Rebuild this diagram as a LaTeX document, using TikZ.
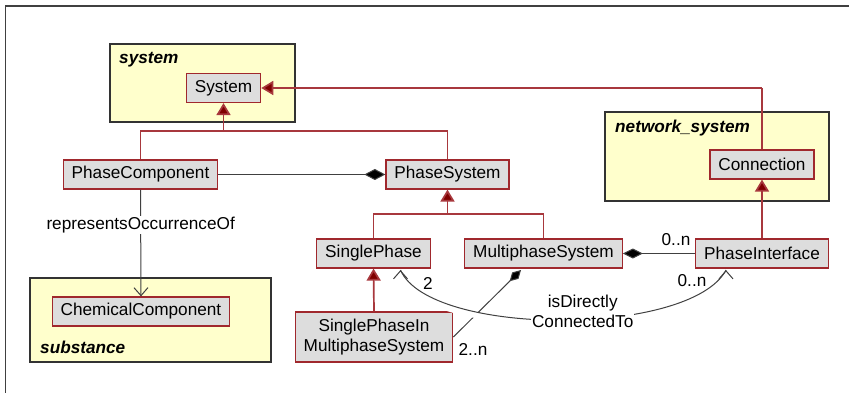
\documentclass[tikz,border=0pt]{standalone}
\usepackage{fontspec}
\setmainfont{Liberation Sans}
\usetikzlibrary{arrows.meta}

\definecolor{pkgfill}{HTML}{FFFFCC}
\definecolor{clsfill}{HTML}{DDDDDD}
\definecolor{clsdraw}{HTML}{A0282D}
\definecolor{genline}{HTML}{A8383D}
\definecolor{gentip}{HTML}{800000}

\tikzset{
  cls/.style={rectangle, fill=clsfill, draw=clsdraw, line width=1.2pt, inner xsep=8.5pt, inner ysep=2pt, minimum height=29pt, font=\fontsize{17.2}{20}\selectfont},
  pkg/.style={rectangle, fill=pkgfill, draw=black!80, line width=1.2pt, inner sep=0pt},
  pkgname/.style={anchor=west, inner sep=0pt, font=\fontsize{17.2}{20}\selectfont\bfseries\itshape},
  gen/.style={draw=genline, line width=1.7pt},
  genarrow/.style={gen, -{Triangle[length=12pt,width=14pt,fill=gentip]}},
  assoc/.style={draw=black!75, line width=1pt},
  barb/.style={assoc, -{Straight Barb[length=8pt,width=14pt]}},
  lbl/.style={inner sep=1pt, font=\fontsize{17.2}{20}\selectfont},
}

\begin{document}
\begin{tikzpicture}[x=1pt, y=-1pt]
\useasboundingbox (0,0) rectangle (849,393);
% frame
\draw[black!75, line width=1.5pt] (5.5,393) -- (5.5,6) -- (849,6);

% packages
\node[pkg, minimum width=185pt, minimum height=78pt] (systemPkg) at (202.5,83) {};
\node[pkgname] (systemName) at (119,60) {system};
\node[pkg, minimum width=224pt, minimum height=89pt] (networkPkg) at (717,156.5) {};
\node[pkgname] (networkName) at (615,128) {network\_system};
\node[pkg, minimum width=241pt, minimum height=84pt] (substancePkg) at (150.5,320) {};
\node[pkgname] (substanceName) at (40,347) {substance};

% classes
\node[cls] (System) at (223.5,88) {System};
\node[cls] (PhaseComponent) at (140.5,174.5) {PhaseComponent};
\node[cls] (PhaseSystem) at (447.5,174.5) {PhaseSystem};
\node[cls] (Connection) at (762,164.5) {Connection};
\node[cls] (ChemicalComponent) at (141,311.5) {ChemicalComponent};
\node[cls] (SinglePhase) at (373.5,253.5) {SinglePhase};
\node[cls] (MultiphaseSystem) at (543.5,253.5) {MultiphaseSystem};
\node[cls] (PhaseInterface) at (762,253.5) {PhaseInterface};
\node[cls, align=center, minimum height=50pt] (SPinMS) at (374,337) {SinglePhaseIn\\MultiphaseSystem};

% generalisations
\coordinate (genSys) at (223.5,131);
\coordinate (genPS) at (447.5,214);
\coordinate (genCon) at (Connection.north |- System.east);
\draw[gen] (PhaseComponent.north) |- (genSys) -| (PhaseSystem.north);
\draw[genarrow] (genSys) -- (System.south);
\draw[gen] (SinglePhase.north) |- (genPS) -| (MultiphaseSystem.north);
\draw[genarrow] (genPS) -- (PhaseSystem.south);
\draw[gen] (Connection.north) -- (genCon);
\draw[genarrow] (genCon) -- (System.east);
\draw[genarrow] (PhaseInterface.north) -- (Connection.south);
\draw[genarrow] (SPinMS.north) -- (SinglePhase.south);

% associations
\draw[assoc, {Diamond[length=21pt,width=11pt,fill=black]}-] (PhaseSystem.west) -- (PhaseComponent.east);
\draw[barb] (PhaseComponent.south) -- (ChemicalComponent.north)
  node[lbl, fill=white, pos=0.33] (repLbl) {representsOccurrenceOf};
\draw[assoc, {Diamond[length=20pt,width=10pt,fill=black]}-] (MultiphaseSystem.east) -- (PhaseInterface.west);
\node[lbl] (piTop) at (676,240) {0..n};

\coordinate (msBottom) at (521,270);
\draw[assoc, {Diamond[length=16pt,width=9pt,fill=black]}-] (msBottom) -- (SPinMS.east);
\node[lbl] (spimsMult) at (473,349) {2..n};

% isDirectlyConnectedTo
\coordinate (spEnd) at ([xshift=27pt,yshift=-1.5pt]SinglePhase.south);
\coordinate (piEnd) at ([xshift=-36pt,yshift=-1.5pt]PhaseInterface.south);
\draw[assoc, preaction={draw=white, line width=6pt, shorten <=10pt, shorten >=10pt}]
  (spEnd) .. controls (430,337) and (690,337) .. (piEnd)
  node[lbl, fill=white, align=center, pos=0.55, yshift=8pt] (connLbl) {isDirectly\\ConnectedTo};
\draw[barb] ([yshift=-1pt]spEnd) -- (spEnd);
\draw[barb] ([yshift=-1pt]piEnd) -- (piEnd);
\node[lbl] (spMult) at (428,283) {2};
\node[lbl] (piMult) at (692,281) {0..n};
\end{tikzpicture}
\end{document}
